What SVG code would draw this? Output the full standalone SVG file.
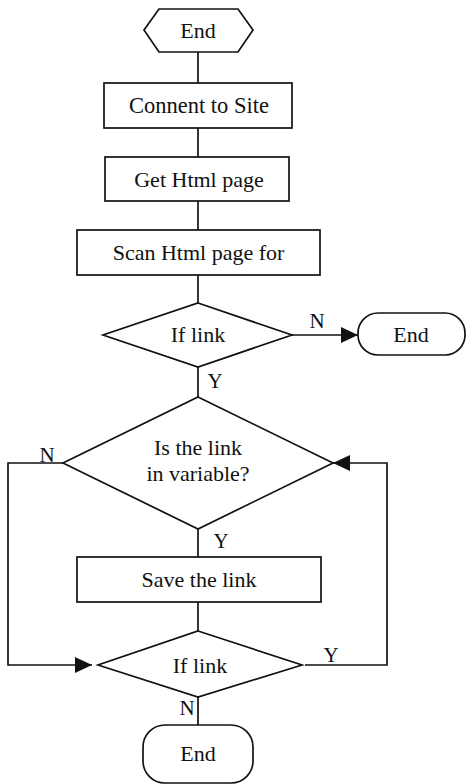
<svg xmlns="http://www.w3.org/2000/svg" width="466" height="784" viewBox="0 0 466 784">
<style>
.s{fill:#fff;stroke:#111;stroke-width:1.7}
.c{fill:none;stroke:#111;stroke-width:1.7}
text{font-family:"Liberation Serif","Times New Roman",serif;fill:#111;text-anchor:middle;font-size:22px}
.l{font-size:21px}
</style>
<defs>
<marker id="ah" markerUnits="userSpaceOnUse" markerWidth="18" markerHeight="16" refX="17" refY="8" orient="auto">
<path d="M0,0 L17,8 L0,16 Z" fill="#111"/>
</marker>
</defs>
<rect width="466" height="784" fill="#fff"/>
<g id="connectors">
<path class="c" d="M198,52 V83"/>
<path class="c" d="M198,128 V157"/>
<path class="c" d="M198,201 V230"/>
<path class="c" d="M198,275 V303"/>
<path class="c" d="M292,335 H358" marker-end="url(#ah)"/>
<path class="c" d="M198,367 V397"/>
<path class="c" d="M198,529 V557"/>
<path class="c" d="M198,602 V631"/>
<path class="c" d="M198,697 V725"/>
<path class="c" d="M63,463 H8 V665 H92" marker-end="url(#ah)"/>
<path class="c" d="M305,665 H387 V463 H333" marker-end="url(#ah)"/>
<text class="l" x="317" y="328">N</text>
<text class="l" x="215" y="388">Y</text>
<text class="l" x="47" y="462">N</text>
<text class="l" x="221" y="548">Y</text>
<text class="l" x="331" y="662">Y</text>
<text class="l" x="187" y="715">N</text>
</g>
<g id="start">
<polygon class="s" points="144,30 159,9 238,9 253,30 238,52 159,52"/>
<text x="198" y="38">End</text>
</g>
<g id="connect">
<rect class="s" x="104" y="83" width="188" height="45"/>
<text x="199" y="113" style="font-size:22.5px">Connent to Site</text>
</g>
<g id="gethtml">
<rect class="s" x="105" y="157" width="184" height="44"/>
<text x="199" y="187">Get Html page</text>
</g>
<g id="scan">
<rect class="s" x="77" y="230" width="243" height="45"/>
<text x="198.5" y="260">Scan Html page for</text>
</g>
<g id="iflink1">
<polygon class="s" points="198,303 292,335 198,367 103,335"/>
<text x="198" y="342">If link</text>
</g>
<g id="end1">
<rect class="s" x="358" y="313" width="107" height="42" rx="20"/>
<text x="411" y="342">End</text>
</g>
<g id="invariable">
<polygon class="s" points="198,397 333,463 198,529 63,463"/>
<text x="198" y="455">Is the link</text>
<text x="198" y="481">in variable?</text>
</g>
<g id="save">
<rect class="s" x="77" y="557" width="244" height="45"/>
<text x="199" y="587">Save the link</text>
</g>
<g id="iflink2">
<polygon class="s" points="198,631 302,665 198,697 98,665"/>
<text x="200" y="673">If link</text>
</g>
<g id="end2">
<rect class="s" x="143" y="725" width="110" height="58" rx="22"/>
<text x="198" y="761">End</text>
</g>
</svg>
